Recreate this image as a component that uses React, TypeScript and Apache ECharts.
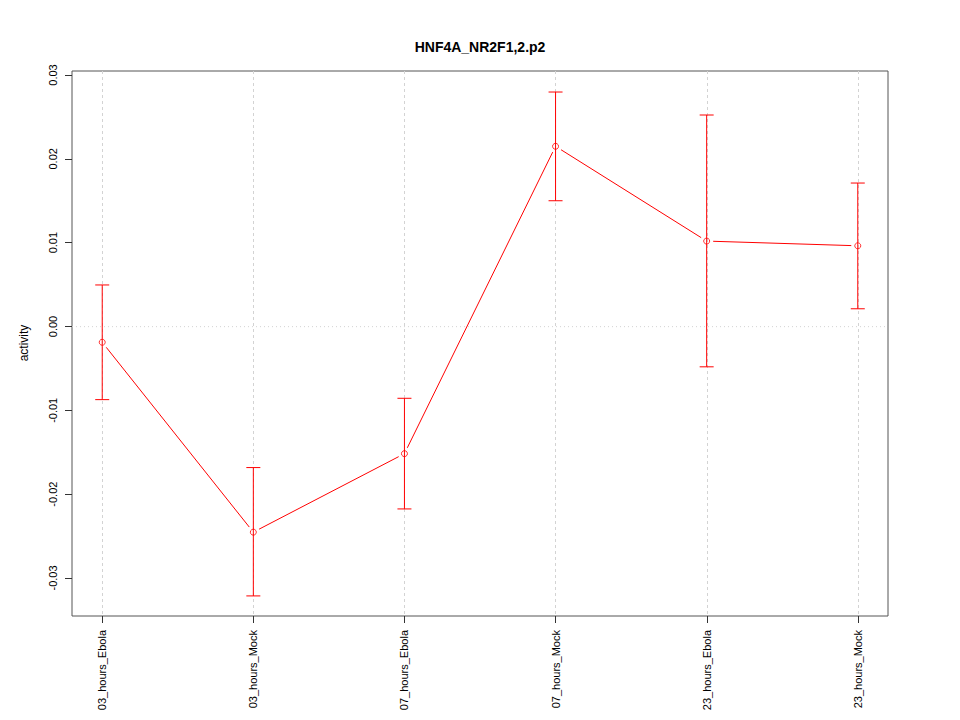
import React, { useEffect, useRef } from "react";
import * as echarts from "echarts";

const title = "HNF4A_NR2F1,2.p2";
const yLabel = "activity";
const categories = [
  "03_hours_Ebola",
  "03_hours_Mock",
  "07_hours_Ebola",
  "07_hours_Mock",
  "23_hours_Ebola",
  "23_hours_Mock",
];
const means = [-0.00186, -0.0245, -0.01514, 0.0215, 0.0102, 0.00964];
const upper = [0.00497, -0.0168, -0.00854, 0.02797, 0.02523, 0.01712];
const lower = [-0.0087, -0.0321, -0.02173, 0.01501, -0.00479, 0.00213];
const yTickMin = -0.03;
const yTickMax = 0.03;
const yTickStep = 0.01;

const FONT = "'Liberation Sans', Arial, Helvetica, sans-serif";
const RED = "#ff0000";

export default function App() {
  const ref = useRef<HTMLDivElement>(null);

  useEffect(() => {
    if (!ref.current) return;
    const chart = echarts.init(ref.current, null, { renderer: "svg" });

    const pts = means.map((m, i) => [i + 1, m]);
    const bars = means.map((_, i) => [i + 1, lower[i], upper[i]]);
    const segs = means.slice(0, -1).map((m, i) => [i + 1, m, i + 2, means[i + 1]]);

    const option: any = {
      animation: false,
      backgroundColor: "#ffffff",
      title: {
        text: title,
        left: "center",
        top: 35,
        textStyle: { fontSize: 14, fontWeight: "bold", color: "#000", fontFamily: FONT },
      },
      graphic: [
        {
          type: "text",
          x: 24,
          y: 343,
          rotation: Math.PI / 2,
          style: {
            text: yLabel,
            textAlign: "center",
            textVerticalAlign: "middle",
            fontSize: 12,
            fill: "#000",
            fontFamily: FONT,
          },
        },
      ],
      grid: [
        { left: 72, right: 72, top: 71, bottom: 104, show: true, borderColor: "#555", borderWidth: 1, backgroundColor: "transparent" },
        { left: 102, right: 102, top: 71, bottom: 104 },
        { left: 72, right: 72, top: 75, bottom: 142 },
      ],
      xAxis: [
        { gridIndex: 0, type: "value", min: 0.8, max: 6.2, show: false },
        {
          gridIndex: 1,
          type: "category",
          data: categories,
          boundaryGap: false,
          axisLine: { show: false },
          axisTick: { show: true, length: 7, lineStyle: { color: "#333" } },
          axisLabel: { interval: 0, rotate: 90, fontSize: 11, color: "#000", margin: 14, fontFamily: FONT },
          splitLine: { show: true, lineStyle: { color: "#d3d3d3", type: [3, 3], width: 1 } },
        },
        { gridIndex: 2, type: "value", show: false, min: 0, max: 1 },
      ],
      yAxis: [
        { gridIndex: 0, type: "value", min: -0.034495, max: 0.030477, show: false },
        { gridIndex: 1, type: "value", min: 0, max: 1, show: false },
        {
          gridIndex: 2,
          type: "value",
          min: yTickMin,
          max: yTickMax,
          interval: yTickStep,
          axisLine: { show: false },
          axisTick: { show: true, length: 7, lineStyle: { color: "#333" } },
          splitLine: { show: false },
          axisLabel: {
            rotate: 90,
            fontSize: 11,
            color: "#000",
            margin: 14,
            fontFamily: FONT,
            formatter: (v: number) => (Math.abs(v) < 1e-9 ? "0.00" : v.toFixed(2)),
          },
        },
      ],
      series: [
        {
          type: "line",
          xAxisIndex: 0,
          yAxisIndex: 0,
          data: [[0.8, 0], [6.2, 0]],
          showSymbol: false,
          silent: true,
          lineStyle: { color: "#d3d3d3", type: [1, 3], width: 1 },
          z: 1,
        },
        {
          type: "custom",
          xAxisIndex: 0,
          yAxisIndex: 0,
          data: bars,
          silent: true,
          z: 3,
          renderItem: (params: any, api: any) => {
            const x = api.value(0);
            const lo = api.coord([x, api.value(1)]);
            const hi = api.coord([x, api.value(2)]);
            const st = { stroke: RED, lineWidth: 1 };
            const w = 7;
            return {
              type: "group",
              children: [
                { type: "line", shape: { x1: lo[0], y1: lo[1], x2: hi[0], y2: hi[1] }, style: st },
                { type: "line", shape: { x1: hi[0] - w, y1: hi[1], x2: hi[0] + w, y2: hi[1] }, style: st },
                { type: "line", shape: { x1: lo[0] - w, y1: lo[1], x2: lo[0] + w, y2: lo[1] }, style: st },
              ],
            };
          },
        },
        {
          type: "custom",
          xAxisIndex: 0,
          yAxisIndex: 0,
          data: segs,
          silent: true,
          z: 3,
          renderItem: (params: any, api: any) => {
            const p1 = api.coord([api.value(0), api.value(1)]);
            const p2 = api.coord([api.value(2), api.value(3)]);
            const dx = p2[0] - p1[0];
            const dy = p2[1] - p1[1];
            const len = Math.sqrt(dx * dx + dy * dy);
            const gap = 6.5;
            const ux = dx / len;
            const uy = dy / len;
            return {
              type: "line",
              shape: {
                x1: p1[0] + ux * gap,
                y1: p1[1] + uy * gap,
                x2: p2[0] - ux * gap,
                y2: p2[1] - uy * gap,
              },
              style: { stroke: RED, lineWidth: 1 },
            };
          },
        },
        {
          type: "scatter",
          xAxisIndex: 0,
          yAxisIndex: 0,
          data: pts,
          symbol: "circle",
          symbolSize: 6,
          silent: true,
          z: 4,
          itemStyle: { color: "rgba(255,255,255,0)", borderColor: RED, borderWidth: 1 },
        },
      ],
    };

    chart.setOption(option);
    return () => chart.dispose();
  }, []);

  return (
    <div
      ref={ref}
      style={{ position: "fixed", left: 0, top: 0, width: 960, height: 720, background: "#fff" }}
    />
  );
}
